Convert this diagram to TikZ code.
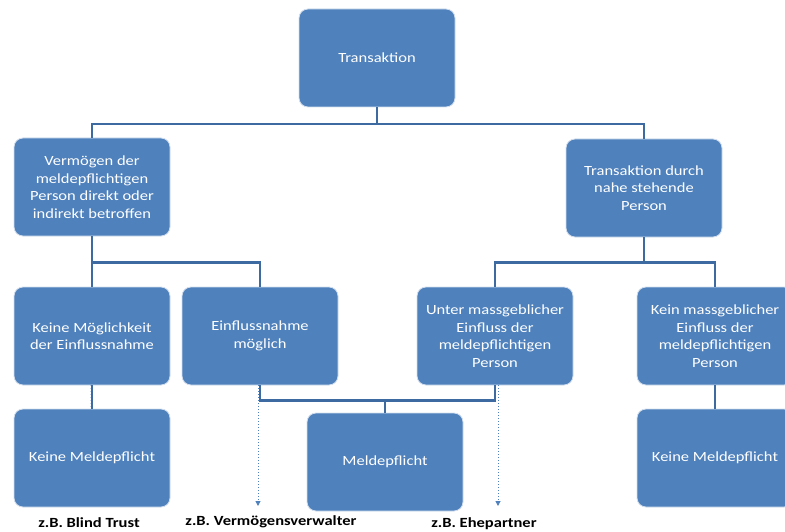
\documentclass[tikz,border=0pt]{standalone}
\usepackage{fontspec}
\setmainfont{Carlito}[FakeStretch=1.18]
\usepackage{xcolor}
\usepackage{tikz}
\usetikzlibrary{arrows.meta,positioning,calc}
\definecolor{boxblue}{HTML}{4F81BD}
\definecolor{linkblue}{HTML}{3D6AA0}

\begin{document}
\begin{tikzpicture}[x=1pt,y=-1pt,
  box/.style={draw=white!75!boxblue,line width=0.8pt,rounded corners=9pt,fill=boxblue,text=white,align=center,
    minimum width=156pt,minimum height=98pt,inner sep=0pt,font=\fontsize{14}{17.5}\selectfont},
  conn/.style={draw=linkblue,line width=2.2pt},
  hint/.style={draw=boxblue,dotted,line width=1pt,-{Triangle[length=5pt,width=5pt]}},
  note/.style={font=\fontsize{14}{16}\selectfont\bfseries,anchor=base,inner sep=0pt}
]
\clip (0,0) rectangle (785,532);
\node[box] (trans) at (377,58) {Transaktion};
\node[box] (verm) at (92,187) {Vermögen der\\meldepflichtigen\\Person direkt oder\\indirekt betroffen};
\node[box] (nahe) at (644,188) {Transaktion durch\\nahe stehende\\Person};
\node[box] (kmog) at (92,336) {Keine Möglichkeit\\der Einflussnahme};
\node[box] (einfl) at (260,336) {Einflussnahme\\möglich};
\node[box] (unter) at (495,336) {Unter massgeblicher\\Einfluss der\\meldepflichtigen\\Person};
\node[box] (kein) at (715,336) {Kein massgeblicher\\Einfluss der\\meldepflichtigen\\Person};
\node[box] (km1) at (92,458) {Keine Meldepflicht};
\node[box] (meld) at (385,462) {Meldepflicht};
\node[box] (km2) at (715,458) {Keine Meldepflicht};
% tree lines
\coordinate (top) at (377,124);
\draw[conn] (trans) -- (top);
\draw[conn] (verm.north) |- (top) -| (nahe.north);
\draw[conn] (verm) -- (kmog);
\draw[conn] (verm.south) -- ++(0,26) -| (einfl.north);
\draw[conn] (nahe.south) -- ++(0,25) coordinate (rj);
\draw[conn] (unter.north) |- (rj) -| (kein.north);
\draw[conn] (kmog) -- (km1);
\draw[conn] (kein) -- (km2);
\draw[conn] (einfl.south) -- ++(0,15) coordinate (bj) -| (unter.south);
\draw[conn] (meld.north) -- (meld.north |- bj);
% examples
\coordinate (h0) at (90,505);
\coordinate (e1) at (258,506);
\coordinate (e2) at (498,506);
\draw[hint,draw opacity=0.3,fill opacity=0.3] (kmog.south -| h0) -- (h0);
\draw[hint] (einfl.south -| e1) -- (e1);
\draw[hint] (unter.south -| e2) -- (e2);
\node[note] (blind) at (89,527) {z.B. Blind Trust};
\node[note] (verw) at (271,525) {z.B. Vermögensverwalter};
\node[note] (ehe) at (484,527) {z.B. Ehepartner};
\end{tikzpicture}
\end{document}
